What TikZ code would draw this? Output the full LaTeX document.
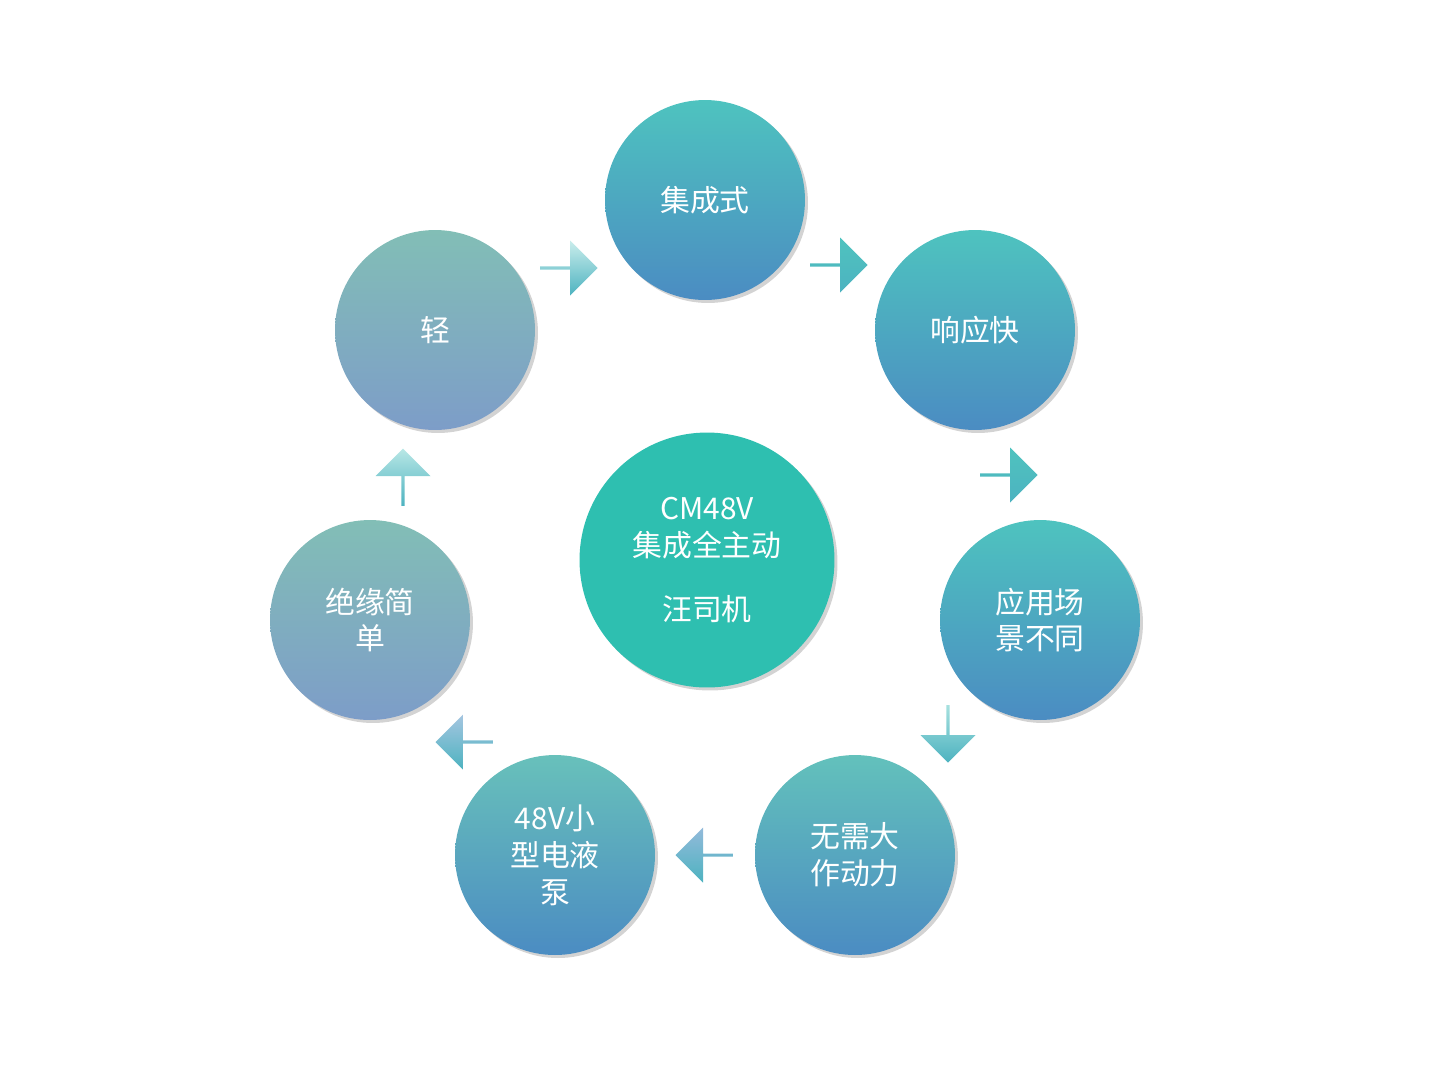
\documentclass[tikz,border=0pt]{standalone}
\usepackage{fontspec}
\setmainfont{Noto Sans CJK SC}
\usetikzlibrary{shapes.arrows,shadows}
\definecolor{tealA}{HTML}{4EC3BF}
\definecolor{blueA}{HTML}{4B8CC2}
\definecolor{greyA}{HTML}{82BEB6}
\definecolor{greyB}{HTML}{7D9DC8}
\definecolor{centerC}{HTML}{2EBFB0}
\tikzset{
  bub/.style={circle,minimum size=4cm,text=white,align=center,font=\fontsize{17}{21}\selectfont,
    drop shadow={shadow xshift=0.06cm,shadow yshift=-0.06cm,opacity=0.35}},
  bubA/.style={bub,shade,shading=axis,shading angle=135,top color=tealA,bottom color=blueA},
  bubB/.style={bub,shade,shading=axis,shading angle=135,top color=greyA,bottom color=greyB},
  arr/.style={single arrow,minimum height=1.15cm,minimum width=1.1cm,single arrow head extend=0.12cm,
    shade,shading=axis,top color=#1,bottom color=tealA!70!blueA,inner sep=0pt},
}
\begin{document}
\begin{tikzpicture}[x=0.02cm,y=-0.02cm]
\useasboundingbox (0,0) rectangle (1452,1066);
\node[bubA] (a) at (705,200) {集成式};
\node[bubA] (b) at (975,330) {响应快};
\node[bubA] (c) at (1040,620) {应用场\\景不同};
\node[bubA,top color=tealA!60!greyA] (d) at (855,855) {无需大\\作动力};
\node[bubA,top color=tealA!50!greyA] (e) at (555,855) {48V小\\型电液\\泵};
\node[bubB] (f) at (370,620) {绝缘简\\单};
\node[bubB] (g) at (435,330) {轻};
\node[circle,minimum size=5.1cm,fill=centerC,text=white,align=center,font=\fontsize{17}{21}\selectfont,
  drop shadow={shadow xshift=0.06cm,shadow yshift=-0.06cm,opacity=0.35}] (m) at (707,560) {CM48V\\集成全主动\\[0.9em]汪司机};
\node[arr=tealA,shape border rotate=-30] (ab) at (838,265) {};
\node[arr=tealA,shape border rotate=-100] (bc) at (1008,475) {};
\node[arr=tealA!50!white,shape border rotate=225] (cd) at (948,733) {};
\node[arr=blueA!60!white,shape border rotate=180] (de) at (705,855) {};
\node[arr=blueA!50!white,shape border rotate=135] (ef) at (465,742) {};
\node[arr=tealA!40!white,shape border rotate=80] (fg) at (403,478) {};
\node[arr=tealA!30!white,shape border rotate=30] (ga) at (568,268) {};
\end{tikzpicture}
\end{document}
